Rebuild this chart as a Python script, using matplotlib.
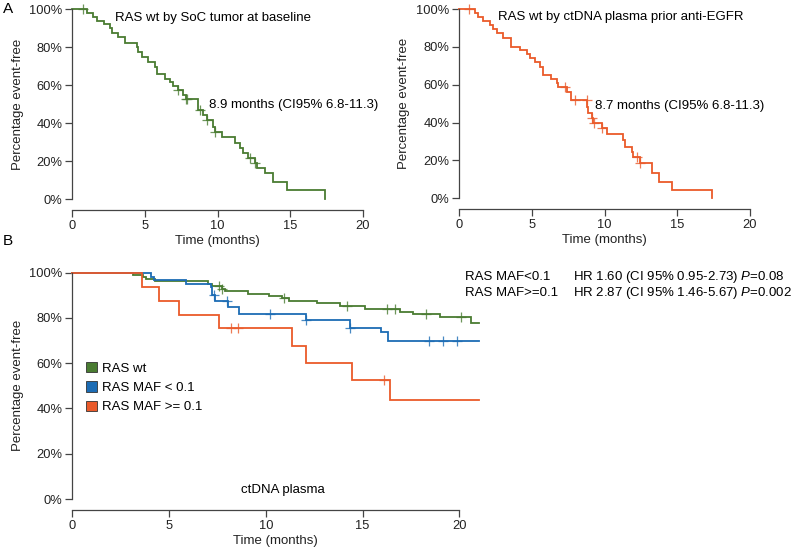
import numpy as np
import matplotlib
matplotlib.use("Agg")
import matplotlib.pyplot as plt
from matplotlib.patches import Patch

plt.rcParams['font.family'] = ['Liberation Sans', 'DejaVu Sans']
plt.rcParams['mathtext.fontset'] = 'custom'
plt.rcParams['mathtext.rm'] = 'Liberation Sans'
plt.rcParams['mathtext.it'] = 'Liberation Sans:italic'

GREEN = "#4a7c32"
ORANGE = "#ea5a2a"
BLUE = "#1c6cb4"
AXC = "#444444"
FS = 9.0
TFS = 9.5

# --- panel A left: RAS wt by SoC tumor (drop times, level after drop, censored times)
socT = [1.0, 1.45, 1.68, 2.2, 2.6, 2.75, 3.17, 3.63, 4.43, 4.54, 4.77, 5.23, 5.69, 5.8, 6.38,
        6.72, 6.95, 7.3, 7.64, 7.82, 8.67, 9.02, 9.25, 9.71, 9.82, 10.28, 11.2, 11.54, 11.77,
        12.11, 12.57, 12.69, 13.26, 13.83, 14.75, 17.39]
socS = [98.1, 96.0, 93.8, 92.1, 89.8, 87.2, 85.4, 81.9, 80.2, 77.5, 74.9, 72.3, 69.6, 65.8, 63.2,
        61.7, 59.5, 57.4, 54.7, 52.6, 46.8, 44.2, 41.6, 38.0, 35.4, 32.8, 29.3, 26.7, 24.0,
        21.4, 18.8, 16.1, 13.5, 9.1, 4.7, 0.0]
socC = [0.77, 7.3, 7.82, 7.9, 8.8, 9.25, 9.82, 12.2, 12.57]

# --- panel A right: RAS wt by ctDNA plasma
ctT = [1.1, 1.33, 1.67, 2.13, 2.36, 2.59, 3.05, 3.55, 4.19, 4.7, 4.88, 5.22, 5.57, 5.8, 6.32,
       6.71, 6.83, 7.4, 7.7, 8.78, 8.84, 9.12, 9.23, 9.81, 10.15, 11.29, 11.41, 11.87, 11.98,
       12.44, 13.24, 13.75, 14.66, 17.41]
ctS = [98.0, 96.0, 93.8, 91.5, 89.2, 87.1, 84.5, 80.1, 78.3, 76.2, 74.0, 71.8, 69.5, 65.1, 63.0,
       60.7, 58.6, 56.3, 51.9, 48.4, 44.9, 42.3, 39.6, 37.0, 34.0, 30.8, 27.3, 24.6, 22.0,
       18.5, 13.5, 8.8, 4.4, 0.0]
ctC = [0.71, 7.29, 7.97, 8.77, 9.12, 9.3, 9.85, 12.2, 12.44]

# --- panel B: ctDNA plasma by RAS MAF
wtT = [3.12, 3.64, 3.81, 4.27, 7.03, 7.2, 7.72, 7.89, 9.06, 10.17, 10.82, 11.22, 12.66, 13.83,
       15.13, 16.94, 17.6, 19.0, 20.6]
wtS = [99.0, 98.2, 97.2, 96.4, 95.0, 94.1, 93.0, 92.0, 90.8, 89.6, 88.6, 87.6, 86.4, 85.3,
       84.1, 82.7, 81.6, 80.4, 77.8]
wtC = [7.6, 7.72, 10.94, 14.2, 16.25, 16.68, 18.3, 20.1]

lowT = [4.07, 4.24, 5.88, 7.15, 7.2, 7.37, 8.06, 8.61, 12.08, 14.35, 15.94, 16.33]
lowS = [98.2, 96.7, 95.0, 93.8, 90.1, 87.6, 84.9, 81.9, 79.3, 75.6, 73.8, 69.9]
lowC = [7.32, 8.0, 10.22, 12.08, 14.35, 18.45, 19.14, 19.9]

highT = [3.58, 4.48, 5.51, 7.58, 11.37, 12.06, 14.44, 16.42]
highS = [93.8, 87.5, 81.3, 75.4, 67.6, 59.9, 52.8, 43.7]
highC = [8.2, 8.58, 16.1]

W, H = 795, 549


def make_ax(fig, x0, xpm, xmax, y0, ypp):
    # x0: pixel of t=0, xpm: px per month, y0: pixel of 0%, ypp: px per %
    ax = fig.add_axes([x0 / W, (H - y0) / H, xmax * xpm / W, 100 * ypp / H])
    ax.set_xlim(0, xmax)
    ax.set_ylim(0, 100)
    for s in ['top', 'right']:
        ax.spines[s].set_visible(False)
    ax.spines['bottom'].set_position(('outward', 8))
    ax.spines['bottom'].set_bounds(0, 20)
    ax.spines['left'].set_bounds(0, 100)
    for s in ['bottom', 'left']:
        ax.spines[s].set_color(AXC)
        ax.spines[s].set_linewidth(0.9)
    ax.set_xticks([0, 5, 10, 15, 20])
    ax.set_yticks([0, 20, 40, 60, 80, 100])
    ax.set_yticklabels([f"{v}%" for v in range(0, 101, 20)])
    ax.tick_params(colors=AXC, labelcolor="#222222", labelsize=FS + 0.3, length=5, width=0.9, pad=2)
    ax.set_xlabel("Time (months)", fontsize=TFS, color="#222222", labelpad=2)
    ax.set_ylabel("Percentage event-free", fontsize=TFS, color="#222222", labelpad=4)
    return ax


def km(ax, times, surv, cens, color, end=None):
    xs = [0] + list(times)
    ys = [100] + list(surv)
    if end is not None:
        xs.append(end)
        ys.append(ys[-1])
    ax.step(xs, ys, where='post', color=color, lw=1.3, clip_on=False, solid_joinstyle='miter')
    t = np.array(times)
    s = np.array([100] + list(surv))
    cy = s[np.searchsorted(t, cens, side='right')]
    ax.plot(cens, cy, ls='none', marker='+', ms=7, mew=0.9, color=color, alpha=0.8, clip_on=False)


fig = plt.figure(figsize=(W / 100, H / 100), dpi=100)

axL = make_ax(fig, 72.3, 14.53, 20, 199, 1.9)
km(axL, socT, socS, socC, GREEN)
axL.text(9.7, 95, "RAS wt by SoC tumor at baseline", ha='center', va='center', fontsize=TFS)
axL.text(9.4, 49.5, "8.9 months (CI95% 6.8-11.3)", ha='left', va='center', fontsize=TFS)

axR = make_ax(fig, 459, 14.55, 20, 198.3, 1.893)
km(axR, ctT, ctS, ctC, ORANGE)
axR.text(11.1, 95.6, "RAS wt by ctDNA plasma prior anti-EGFR", ha='center', va='center', fontsize=TFS)
axR.text(9.35, 48.8, "8.7 months (CI95% 6.8-11.3)", ha='left', va='center', fontsize=TFS)

axB = make_ax(fig, 72.3, 19.35, 21, 499, 2.263)
km(axB, wtT, wtS, wtC, GREEN, end=21.0)
km(axB, lowT, lowS, lowC, BLUE, end=21.0)
km(axB, highT, highS, highC, ORANGE, end=21.0)
axB.text(10.9, 4, "ctDNA plasma", ha='center', va='center', fontsize=TFS)

handles = [Patch(facecolor=GREEN, edgecolor="#333333", lw=0.6, label="RAS wt"),
           Patch(facecolor=BLUE, edgecolor="#333333", lw=0.6, label="RAS MAF < 0.1"),
           Patch(facecolor=ORANGE, edgecolor="#333333", lw=0.6, label="RAS MAF >= 0.1")]
leg = axB.legend(handles=handles, loc='upper left', bbox_to_anchor=(0.02, 0.63), frameon=False,
                 fontsize=TFS, handlelength=0.85, handleheight=0.85, handletextpad=0.4,
                 labelspacing=0.5, borderaxespad=0)

fig.text(465 / W, 1 - 277 / H, "RAS MAF<0.1", va='center', fontsize=TFS)
fig.text(465 / W, 1 - 293 / H, "RAS MAF>=0.1", va='center', fontsize=TFS)
fig.text(573 / W, 1 - 277 / H, r"HR 1.60 (CI 95% 0.95-2.73) $P$=0.08", va='center', fontsize=TFS)
fig.text(573 / W, 1 - 293 / H, r"HR 2.87 (CI 95% 1.46-5.67) $P$=0.002", va='center', fontsize=TFS)

fig.text(3 / W, 1 - 9 / H, "A", va='center', fontsize=FS + 2)
fig.text(3 / W, 1 - 241 / H, "B", va='center', fontsize=FS + 2)

fig.savefig("out.png", dpi=100)
